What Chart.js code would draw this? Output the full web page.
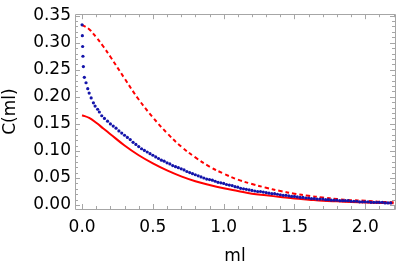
<!DOCTYPE html>
<html>
<head>
<meta charset="utf-8">
<script src="https://cdn.jsdelivr.net/npm/chart.js@4.4.1/dist/chart.umd.min.js"></script>
<style>
html,body{margin:0;padding:0;background:#fff;}
#wrap{width:399px;height:267px;position:relative;}
</style>
</head>
<body>
<div id="wrap"><canvas id="c" width="399" height="267"></canvas></div>
<script>
// ---- data ----
const lineX = [0.0,0.05,0.1,0.15,0.2,0.3,0.4,0.5,0.6,0.7,0.8,0.9,1.0,1.1,1.2,1.3,1.4,1.5,1.6,1.7,1.8,1.9,2.0,2.1,2.2];
const dashedY = [0.333,0.325,0.310,0.293,0.274,0.234,0.195,0.162,0.133,0.108,0.088,0.071,0.058,0.047,0.039,0.032,0.026,0.021,0.017,0.014,0.011,0.009,0.008,0.006,0.005];
const solidY = [0.166,0.161,0.152,0.1415,0.131,0.110,0.092,0.077,0.064,0.053,0.044,0.037,0.031,0.026,0.021,0.018,0.015,0.012,0.010,0.008,0.0068,0.0058,0.0048,0.004,0.0033];

const dotX = [0.0,0.002,0.004,0.006,0.009,0.016,0.028,0.04,0.05,0.064,0.08,0.092,0.11,0.122,0.139,0.158,
0.18,0.20,0.22,0.24,0.26,0.28,0.30,0.32,0.34,0.36,0.38,0.40,0.42,0.44,0.46,0.48,0.50,0.52,0.54,0.56,0.58,0.60,
0.62,0.64,0.66,0.68,0.70,0.72,0.74,0.76,0.78,0.80,0.82,0.84,0.86,0.88,0.90,0.92,0.94,0.96,0.98,1.00,
1.02,1.04,1.06,1.08,1.10,1.12,1.14,1.16,1.18,1.20,1.22,1.24,1.26,1.28,1.30,1.32,1.34,1.36,1.38,1.40,
1.42,1.44,1.46,1.48,1.50,1.52,1.54,1.56,1.58,1.60,1.62,1.64,1.66,1.68,1.70,1.72,1.74,1.76,1.78,1.80,
1.82,1.84,1.86,1.88,1.90,1.92,1.94,1.96,1.98,2.00,2.02,2.04,2.06,2.08,2.10,2.12,2.14,2.16,2.18];
const dotY = [0.333,0.313,0.293,0.275,0.256,0.236,0.226,0.215,0.207,0.198,0.189,0.183,0.177,0.172,0.165,0.160,
0.155,0.150,0.146,0.142,0.137,0.133,0.129,0.125,0.121,0.116,0.112,0.108,0.104,0.101,0.098,0.095,0.092,0.089,0.086,0.083,0.081,0.078,
0.076,0.073,0.071,0.069,0.067,0.065,0.062,0.060,0.058,0.056,0.054,0.052,0.050,0.048,0.047,0.046,0.044,0.042,0.041,0.040,
0.038,0.037,0.036,0.034,0.033,0.031,0.030,0.029,0.028,0.027,0.026,0.025,0.025,0.024,0.023,0.022,0.021,0.021,0.020,0.019,
0.018,0.018,0.017,0.016,0.016,0.015,0.014,0.014,0.013,0.013,0.012,0.012,0.011,0.011,0.011,0.010,0.010,0.009,0.009,0.009,
0.008,0.008,0.008,0.008,0.007,0.007,0.007,0.006,0.006,0.006,0.006,0.005,0.005,0.005,0.005,0.005,0.004,0.004,0.004];

const xTicks = [0.0,0.5,1.0,1.5,2.0];
const yTicks = [0.00,0.05,0.10,0.15,0.20,0.25,0.30,0.35];
const xMinor = [0.1,0.2,0.3,0.4,0.6,0.7,0.8,0.9,1.1,1.2,1.3,1.4,1.6,1.7,1.8,1.9,2.1,2.2];
const yMinor = [0.01,0.02,0.03,0.04,0.06,0.07,0.08,0.09,0.11,0.12,0.13,0.14,0.16,0.17,0.18,0.19,0.21,0.22,0.23,0.24,0.26,0.27,0.28,0.29,0.31,0.32,0.33,0.34];
const xTitle = "ml";
const yTitle = "C(ml)";

const pts = (xs, ys) => xs.map((x, i) => ({x: x, y: ys[i]}));

const frameColor = '#a6a6a6';
const framePlugin = {
  id: 'frame',
  afterDatasetsDraw(chart) {
    const ctx = chart.ctx, a = chart.chartArea;
    const xs = chart.scales.x, ys = chart.scales.y;
    ctx.save();
    ctx.strokeStyle = frameColor;
    ctx.lineWidth = 1;
    ctx.beginPath();
    ctx.rect(Math.round(a.left) + 0.5, Math.round(a.top) + 0.5, Math.round(a.right - a.left), Math.round(a.bottom - a.top));
    ctx.stroke();
    const tick = (vals, len) => {
      ctx.beginPath();
      vals.forEach(v => {
        const px = Math.round(xs.getPixelForValue(v)) + 0.5;
        ctx.moveTo(px, a.bottom); ctx.lineTo(px, a.bottom - len);
        ctx.moveTo(px, a.top); ctx.lineTo(px, a.top + len);
      });
      ctx.stroke();
    };
    const tickY = (vals, len) => {
      ctx.beginPath();
      vals.forEach(v => {
        const py = Math.round(ys.getPixelForValue(v)) + 0.5;
        ctx.moveTo(a.left, py); ctx.lineTo(a.left + len, py);
        ctx.moveTo(a.right, py); ctx.lineTo(a.right - len, py);
      });
      ctx.stroke();
    };
    tick(xTicks, 5); tick(xMinor, 3);
    tickY(yTicks, 5); tickY(yMinor, 3);
    ctx.restore();
  }
};

const font = {family: 'DejaVu Sans', size: 17};

new Chart(document.getElementById('c'), {
  type: 'scatter',
  data: {
    datasets: [
      {data: pts(dotX, dotY), showLine: false, pointRadius: 1.6, pointBackgroundColor: 'rgb(20,20,170)', pointBorderWidth: 0, order: 0},
      {data: pts(lineX, dashedY), showLine: true, borderColor: '#ff0000', borderWidth: 2, borderDash: [4, 3], pointRadius: 0, tension: 0.4, order: 1},
      {data: pts(lineX, solidY), showLine: true, borderColor: '#ff0000', borderWidth: 2, pointRadius: 0, tension: 0.4, order: 2}
    ]
  },
  options: {
    responsive: false,
    animation: false,
    layout: {padding: {top: 11, right: 4, left: 0, bottom: 0}},
    plugins: {legend: {display: false}, tooltip: {enabled: false}},
    scales: {
      x: {
        type: 'linear', min: -0.05, max: 2.21,
        afterBuildTicks: s => { s.ticks = xTicks.map(v => ({value: v})); },
        afterFit: s => { s.height = 58; },
        grid: {display: false, drawTicks: false},
        border: {display: false},
        ticks: {color: '#000', font: font, padding: 8, maxRotation: 0, callback: v => v.toFixed(1)},
        title: {display: true, text: xTitle, color: '#000', font: font, padding: {top: 4, bottom: 0}}
      },
      y: {
        type: 'linear', min: -0.0073, max: 0.3527,
        afterBuildTicks: s => { s.ticks = yTicks.map(v => ({value: v})); },
        afterFit: s => { s.width = 75; },
        grid: {display: false, drawTicks: false},
        border: {display: false},
        ticks: {color: '#000', font: font, padding: 4, callback: v => v.toFixed(2)},
        title: {display: true, text: yTitle, color: '#000', font: font, padding: {top: 0, bottom: 0}}
      }
    }
  },
  plugins: [framePlugin]
});
</script>
</body>
</html>
